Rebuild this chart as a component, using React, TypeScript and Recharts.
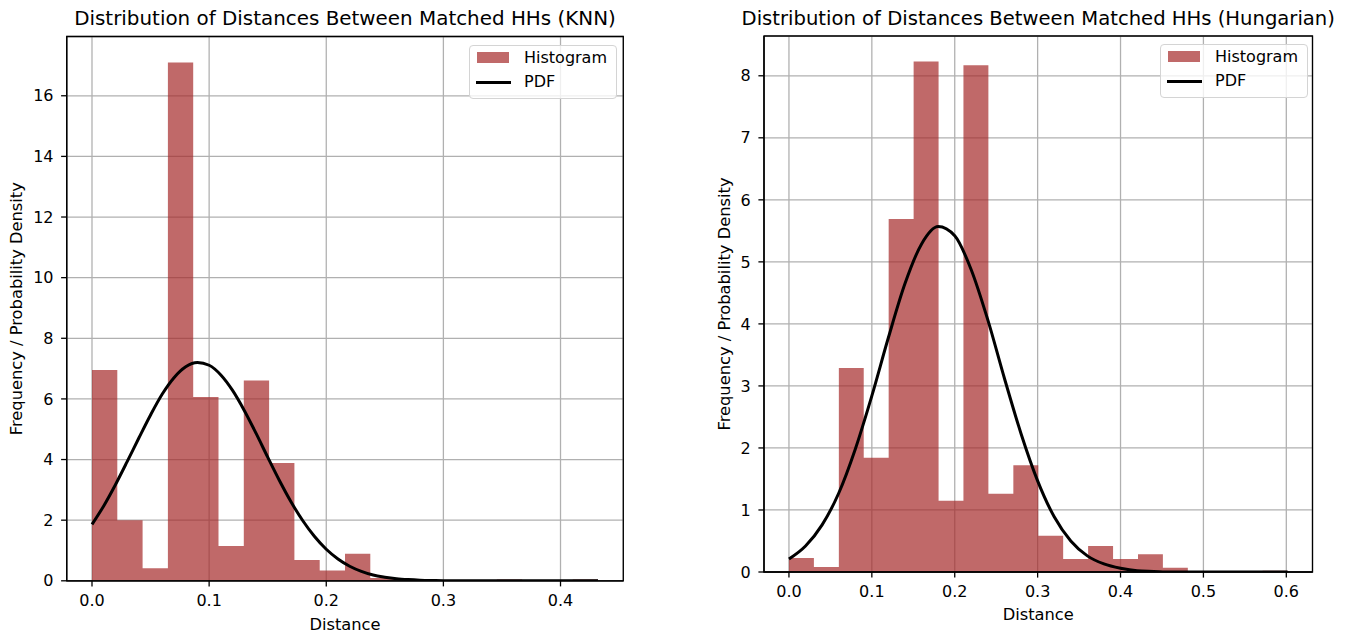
import React from 'react';
import {
  ComposedChart,
  Area,
  Line,
  XAxis,
  YAxis,
  CartesianGrid,
  ReferenceArea,
  Legend,
} from 'recharts';

// ---------------- data: KNN panel ----------------
const knnBinEdges = [
  0, 0.0216, 0.0432, 0.0648, 0.0864, 0.108, 0.1296, 0.1512, 0.1728, 0.1944, 0.216,
  0.2376, 0.2592, 0.2808, 0.3024, 0.324, 0.3456, 0.3672, 0.3888, 0.4104, 0.432,
];
const knnDensity = [
  6.95, 2.0, 0.41, 17.1, 6.06, 1.15, 6.61, 3.89, 0.69, 0.34, 0.89, 0.09, 0, 0, 0, 0,
  0.04, 0, 0, 0.04,
];
const knnPdfX = [
  0, 0.01, 0.02, 0.03, 0.04, 0.05, 0.06, 0.07, 0.08, 0.09, 0.1, 0.11, 0.12, 0.13, 0.14,
  0.15, 0.16, 0.17, 0.18, 0.19, 0.2, 0.21, 0.22, 0.23, 0.24, 0.25, 0.26, 0.27, 0.28,
  0.29, 0.3, 0.32, 0.36, 0.4, 0.432,
];
const knnPdfY = [
  1.86, 2.47, 3.17, 3.93, 4.71, 5.47, 6.16, 6.7, 7.06, 7.2, 7.11, 6.79, 6.28, 5.62, 4.87,
  4.08, 3.31, 2.6, 1.98, 1.46, 1.04, 0.72, 0.48, 0.31, 0.19, 0.12, 0.07, 0.04, 0.02,
  0.01, 0.005, 0, 0, 0, 0,
];
const knnXTicks = [0, 0.1, 0.2, 0.3, 0.4];
const knnYTicks = [0, 2, 4, 6, 8, 10, 12, 14, 16];

// ---------------- data: Hungarian panel ----------------
const hunBinEdges = [
  0, 0.0301, 0.0602, 0.0902, 0.1203, 0.1504, 0.1805, 0.2105, 0.2406, 0.2707, 0.3008,
  0.3308, 0.3609, 0.391, 0.4211, 0.4511, 0.4812, 0.5113, 0.5414, 0.5714, 0.6015,
];
const hunDensity = [
  0.225, 0.08, 3.29, 1.84, 5.69, 8.23, 1.15, 8.17, 1.26, 1.72, 0.585, 0.21, 0.42, 0.21,
  0.285, 0.07, 0, 0, 0, 0.02,
];
const hunPdfX = [
  0, 0.02, 0.04, 0.06, 0.08, 0.1, 0.12, 0.14, 0.16, 0.18, 0.2, 0.22, 0.24, 0.26, 0.28,
  0.3, 0.32, 0.34, 0.36, 0.38, 0.4, 0.42, 0.44, 0.46, 0.5, 0.55, 0.6015,
];
const hunPdfY = [
  0.21, 0.42, 0.76, 1.27, 1.98, 2.84, 3.78, 4.65, 5.29, 5.57, 5.42, 4.87, 4.06, 3.12,
  2.23, 1.47, 0.89, 0.5, 0.26, 0.13, 0.06, 0.02, 0.01, 0, 0, 0, 0,
];
const hunXTicks = [0, 0.1, 0.2, 0.3, 0.4, 0.5, 0.6];
const hunYTicks = [0, 1, 2, 3, 4, 5, 6, 7, 8];

const titles = [
  'Distribution of Distances Between Matched HHs (KNN)',
  'Distribution of Distances Between Matched HHs (Hungarian)',
];
const xAxisLabel = 'Distance';
const yAxisLabel = 'Frequency / Probability Density';
const legendLabels = ['Histogram', 'PDF'];

// ---------------- styling ----------------
const FONT = '"DejaVu Sans", Verdana, sans-serif';
const HIST_FILL = '#a52a2a';
const GRID = '#b0b0b0';

function stepPoints(edges: number[], vals: number[]) {
  const pts = edges.slice(0, vals.length).map((x, i) => ({ x, y: vals[i] }));
  pts.push({ x: edges[edges.length - 1], y: vals[vals.length - 1] });
  return pts;
}

function linePoints(xs: number[], ys: number[]) {
  return xs.map((x, i) => ({ x, y: ys[i] }));
}

function XLab(props: { px: number; py: number; txt: string }) {
  return (
    <text
      x={props.px}
      y={props.py}
      textAnchor="middle"
      fontSize={16.3}
      fontFamily={FONT}
      fill="#000"
    >
      {props.txt}
    </text>
  );
}

function YLab(props: { px: number; py: number; txt: string }) {
  return (
    <text
      x={props.px}
      y={props.py}
      transform={`rotate(-90 ${props.px} ${props.py})`}
      textAnchor="middle"
      fontSize={16.3}
      fontFamily={FONT}
      fill="#000"
    >
      {props.txt}
    </text>
  );
}

function LegendBox() {
  return (
    <div
      style={{
        position: 'relative',
        width: 148,
        height: 54,
        boxSizing: 'border-box',
        border: '1px solid #d4d4d4',
        borderRadius: 4,
        background: 'rgba(255,255,255,0.8)',
        fontFamily: FONT,
        fontSize: 16,
        color: '#000',
      }}
    >
      <div
        style={{
          position: 'absolute',
          left: 7,
          top: 6,
          width: 32,
          height: 11,
          background: HIST_FILL,
          opacity: 0.7,
        }}
      />
      <div style={{ position: 'absolute', left: 54, top: 1, lineHeight: '22px', whiteSpace: 'nowrap' }}>
        {legendLabels[0]}
      </div>
      <div
        style={{
          position: 'absolute',
          left: 6,
          top: 35,
          width: 35,
          height: 3,
          background: '#000',
        }}
      />
      <div style={{ position: 'absolute', left: 54, top: 25, lineHeight: '22px', whiteSpace: 'nowrap' }}>
        {legendLabels[1]}
      </div>
    </div>
  );
}

type PanelProps = {
  left: number;
  width: number;
  height: number;
  margin: { top: number; right: number; bottom: number; left: number };
  yAxisWidth: number;
  xAxisHeight: number;
  title: string;
  titleBaseline: number;
  titleSize: number;
  edges: number[];
  density: number[];
  pdfX: number[];
  pdfY: number[];
  xTicks: number[];
  yTicks: number[];
  xDomain: [number, number];
  yDomain: [number, number];
  legendPos: { left: number; top: number };
  yLabelX: number;
  xLabelBaseline: number;
};

function Panel(p: PanelProps) {
  const hist = stepPoints(p.edges, p.density);
  const pdf = linePoints(p.pdfX, p.pdfY);
  const plotLeft = p.margin.left + p.yAxisWidth;
  const plotRight = p.width - p.margin.right;
  const plotTop = p.margin.top;
  const plotBottom = p.height - p.margin.bottom - p.xAxisHeight;
  const cx = (plotLeft + plotRight) / 2;
  const cy = (plotTop + plotBottom) / 2;
  const tickStyle = { fill: '#000', fontSize: 16, fontFamily: FONT };

  return (
    <div style={{ position: 'absolute', left: p.left, top: 0, width: p.width, height: p.height }}>
      <ComposedChart
        width={p.width}
        height={p.height}
        margin={p.margin}
        style={{ fontFamily: FONT }}
      >
        <XAxis
          type="number"
          dataKey="x"
          domain={p.xDomain}
          ticks={p.xTicks}
          interval={0}
          allowDataOverflow
          height={p.xAxisHeight}
          tickFormatter={(v: number) => v.toFixed(1)}
          tick={tickStyle}
          tickSize={5.6}
          tickMargin={8.4}
          tickLine={{ stroke: '#000', strokeWidth: 1.3 }}
          axisLine={{ stroke: '#000', strokeWidth: 1.3 }}
          label={<XLab px={cx} py={p.xLabelBaseline} txt={xAxisLabel} />}
        />
        <YAxis
          type="number"
          domain={p.yDomain}
          ticks={p.yTicks}
          interval={0}
          allowDataOverflow
          width={p.yAxisWidth}
          tick={tickStyle}
          tickSize={5.6}
          tickMargin={7.6}
          tickLine={{ stroke: '#000', strokeWidth: 1.3 }}
          axisLine={{ stroke: '#000', strokeWidth: 1.3 }}
          label={<YLab px={p.yLabelX} py={cy} txt={yAxisLabel} />}
        />
        <Area
          data={hist}
          dataKey="y"
          type="stepAfter"
          fill={HIST_FILL}
          fillOpacity={0.7}
          stroke="none"
          isAnimationActive={false}
          dot={false}
          activeDot={false}
          name={legendLabels[0]}
        />
        <CartesianGrid stroke={GRID} strokeWidth={1.28} fill="none" />
        <Line
          data={pdf}
          dataKey="y"
          type="monotone"
          stroke="#000"
          strokeWidth={3}
          dot={false}
          activeDot={false}
          isAnimationActive={false}
          name={legendLabels[1]}
        />
        <ReferenceArea
          x1={p.xDomain[0]}
          x2={p.xDomain[1]}
          y1={p.yDomain[0]}
          y2={p.yDomain[1]}
          ifOverflow="visible"
          fill="none"
          fillOpacity={0}
          stroke="#000"
          strokeWidth={1.3}
        />
        <Legend
          layout="vertical"
          align="center"
          verticalAlign="middle"
          content={() => <LegendBox />}
          wrapperStyle={{ left: p.legendPos.left, top: p.legendPos.top, width: 148, height: 54 }}
        />
      </ComposedChart>
      <div
        style={{
          position: 'absolute',
          left: cx - 400,
          width: 800,
          top: p.titleBaseline - 17,
          textAlign: 'center',
          fontFamily: FONT,
          fontSize: p.titleSize,
          lineHeight: `${p.titleSize}px`,
          color: '#000',
          whiteSpace: 'nowrap',
        }}
      >
        {p.title}
      </div>
    </div>
  );
}

export default function App() {
  return (
    <div
      style={{
        position: 'absolute',
        left: 0,
        top: 0,
        width: 1349,
        height: 633,
        background: '#fff',
        overflow: 'hidden',
      }}
    >
      <Panel
        left={0}
        width={670}
        height={633}
        margin={{ top: 36.5, right: 46.7, bottom: 0, left: 6.7 }}
        yAxisWidth={60}
        xAxisHeight={52.2}
        title={titles[0]}
        titleBaseline={26}
        titleSize={19.9}
        edges={knnBinEdges}
        density={knnDensity}
        pdfX={knnPdfX}
        pdfY={knnPdfY}
        xTicks={knnXTicks}
        yTicks={knnYTicks}
        xDomain={[-0.0216, 0.4536]}
        yDomain={[0, 17.955]}
        legendPos={{ left: 469, top: 44.7 }}
        yLabelX={22}
        xLabelBaseline={630}
      />
      <Panel
        left={680}
        width={669}
        height={633}
        margin={{ top: 36, right: 36.5, bottom: 0, left: 24 }}
        yAxisWidth={60}
        xAxisHeight={61}
        title={titles[1]}
        titleBaseline={26}
        titleSize={19.6}
        edges={hunBinEdges}
        density={hunDensity}
        pdfX={hunPdfX}
        pdfY={hunPdfY}
        xTicks={hunXTicks}
        yTicks={hunYTicks}
        xDomain={[-0.0301, 0.6316]}
        yDomain={[0, 8.6415]}
        legendPos={{ left: 480, top: 43.7 }}
        yLabelX={49.5}
        xLabelBaseline={619.5}
      />
    </div>
  );
}
